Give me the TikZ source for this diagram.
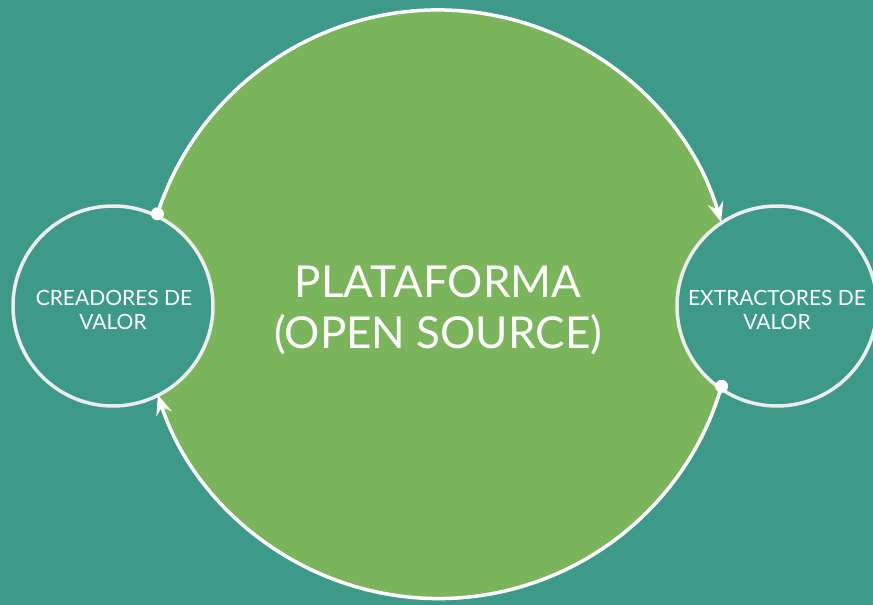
\documentclass[tikz,border=0pt]{standalone}
\usepackage{fontspec}
\setmainfont{Lato}
\usetikzlibrary{arrows.meta}
\definecolor{bgteal}{HTML}{3D9A89}
\definecolor{plgreen}{HTML}{7BB55B}
\tikzset{
  bigtext/.style={text=white, font=\fontsize{44bp}{51bp}\selectfont, anchor=base, inner sep=0pt},
  smalltext/.style={text=white, font=\fontsize{21bp}{24bp}\selectfont, anchor=base, inner sep=0pt},
  smallcircle/.style={circle, fill=bgteal, draw=white!93!black, line width=3.5bp, minimum size=200bp, inner sep=0pt, outer sep=0pt},
  bigcircle/.style={circle, fill=plgreen, minimum size=590bp, inner sep=0pt, outer sep=0pt},
  flow/.style={draw=white, line width=3.5bp, -{Stealth[length=20bp,width=16bp,inset=7bp]}},
  flowdot/.style={fill=white}
}
\begin{document}
\begin{tikzpicture}[x=1bp,y=-1bp]
\useasboundingbox (0,0) rectangle (873,605);
\clip (0,0) rectangle (873,605);
\fill[bgteal] (0,0) rectangle (873,605);
\node[bigcircle] (plat) at (438,305) {};
\node[smallcircle] (crea) at (113,306) {};
\node[smallcircle] (extr) at (777,306) {};
\coordinate (tl) at (plat.162);
\coordinate (tr) at (plat.16.3);
\coordinate (br) at (plat.-16.3);
\coordinate (bl) at (plat.-162);
\draw[flow] (tl) arc[start angle=162, end angle=16.3, radius=295bp];
\draw[flow] (br) arc[start angle=-16.3, end angle=-162, radius=295bp];
\fill[flowdot] (tl) circle[radius=6.5bp];
\fill[flowdot] (br) circle[radius=6.5bp];
\node[bigtext] (t1) at (438,297) {PLATAFORMA};
\node[bigtext] (t2) at (438,348) {(OPEN SOURCE)};
\node[smalltext] (c1) at (114,305) {CREADORES DE};
\node[smalltext] (c2) at (113,329) {VALOR};
\node[smalltext] (e1) at (777,305) {EXTRACTORES DE};
\node[smalltext] (e2) at (777,329) {VALOR};
\end{tikzpicture}
\end{document}
